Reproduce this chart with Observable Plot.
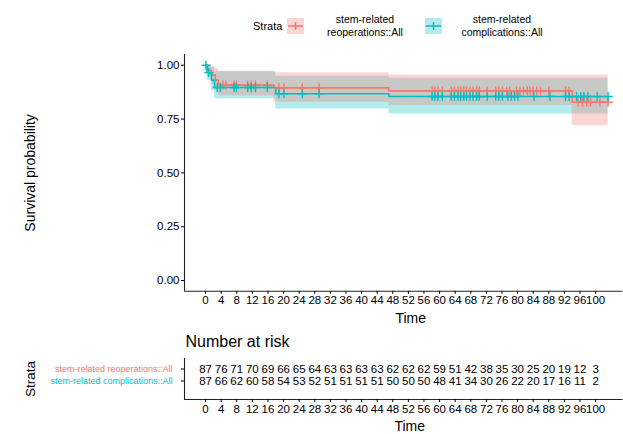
<!DOCTYPE html>
<html><head><meta charset="utf-8">
<script src="https://cdn.jsdelivr.net/npm/d3@7"></script>
<script src="https://cdn.jsdelivr.net/npm/@observablehq/plot@0.6"></script>
<style>
body{margin:0;background:#fff;font-family:"Liberation Sans",Arial,Helvetica,sans-serif;}
#wrap{position:relative;width:623px;height:434px;overflow:hidden;background:#fff;}
#legend{position:relative;height:45px;width:623px;}
#main{height:280px;}
#risk{height:109px;}
.lg{position:absolute;color:#000;white-space:nowrap;}
</style></head>
<body><div id="wrap"><div id="legend"></div><div id="main"></div><div id="risk"></div></div>
<script>
// ---- data ----
const strata = ["stem-related reoperations::All", "stem-related complications::All"];
const legendLines = [["stem-related", "reoperations::All"], ["stem-related", "complications::All"]];
const colors = ["#F8766D", "#00BFC4"];

const timeTicks = [0,4,8,12,16,20,24,28,32,36,40,44,48,52,56,60,64,68,72,76,80,84,88,92,96,100];
const probTicks = [0, 0.25, 0.5, 0.75, 1];

// Kaplan-Meier steps
const reopTime  = [0, 0.5, 1.5, 2.5, 3.3, 17.5, 47.0, 94.0, 103.2];
const reopSurv  = [1, 0.977, 0.954, 0.931, 0.908, 0.895, 0.881, 0.828, 0.828];
const reopUpper = [1, 1, 0.995, 0.985, 0.972, 0.965, 0.955, 0.955, 0.955];
const reopLower = [1, 0.945, 0.91, 0.88, 0.858, 0.828, 0.813, 0.72, 0.72];

const compTime  = [0, 0.4, 1.5, 2.3, 18.0, 47.0, 103.2];
const compSurv  = [1, 0.966, 0.931, 0.897, 0.868, 0.855, 0.855];
const compUpper = [1, 1, 0.99, 0.97, 0.949, 0.94, 0.94];
const compLower = [1, 0.93, 0.88, 0.844, 0.797, 0.774, 0.774];

// censoring times
const reopCensor = [4.5, 5.2, 7.3, 7.9, 10.8, 11.7, 12.8, 15.8, 18.8, 20.1, 24.8, 29.1,
  58.1, 58.8, 59.6, 60.7, 63.0, 63.8, 64.7, 65.4, 66.2, 66.9, 67.8, 68.6, 69.5, 70.2, 72.2,
  74.4, 75.2, 76.1, 77.2, 78.0, 79.7, 80.6, 81.5, 82.5, 83.2, 84.0, 84.9, 85.9, 88.0, 92.3, 93.2,
  95.5, 96.6, 97.7, 98.7, 101.1, 103.2];
const compCensor = [0.1, 0.8, 3.0, 3.8, 7.3, 7.9, 10.8, 11.7, 12.8, 15.8, 18.8, 20.1, 24.8, 29.1,
  58.1, 58.8, 59.6, 60.7, 63.0, 63.8, 64.7, 65.4, 66.2, 66.9, 67.8, 68.6, 69.5, 70.2, 72.2,
  74.4, 75.2, 76.1, 77.5, 78.4, 79.2, 80.1, 84.2, 88.3, 92.3, 93.2,
  95.1, 96.2, 97.0, 98.0, 100.4, 103.2];

// number at risk at timeTicks
const reopRisk = [87,76,71,70,69,66,65,64,63,63,63,63,62,62,62,59,51,42,38,35,30,25,20,19,12,3];
const compRisk = [87,66,62,60,58,54,53,52,51,51,51,51,50,50,50,48,41,34,30,26,22,20,17,16,11,2];

// ---- build tables ----
const curves = [
  {name: strata[0], time: reopTime, surv: reopSurv, upper: reopUpper, lower: reopLower, cens: reopCensor, risk: reopRisk},
  {name: strata[1], time: compTime, surv: compSurv, upper: compUpper, lower: compLower, cens: compCensor, risk: compRisk}
];
function stepAt(times, vals, t) { const i = d3.bisectRight(times, t) - 1; return vals[Math.max(0, i)]; }
const bandRows = curves.flatMap(c => c.time.map((t, i) => ({strata: c.name, time: t, surv: c.surv[i], upper: c.upper[i], lower: c.lower[i]})));
const bandRowsRev = curves.slice().reverse().flatMap(c => c.time.map((t, i) => ({strata: c.name, time: t, upper: c.upper[i], lower: c.lower[i]})));
const censRows = curves.flatMap(c => c.cens.map(t => ({strata: c.name, time: t, surv: stepAt(c.time, c.surv, t)})));
const riskRows = curves.flatMap((c, r) => timeTicks.map((t, j) => ({strata: c.name, row: r, time: t, n: c.risk[j]})));
const labelRows = strata.map((s, r) => ({strata: s, row: r}));

const cross = {draw(ctx, size) { const r = Math.sqrt(size / Math.PI); ctx.moveTo(-r, 0); ctx.lineTo(r, 0); ctx.moveTo(0, -r); ctx.lineTo(0, r); }};
const xDomain = [-5.4, 107.0];
const font = "'Liberation Sans', Arial, Helvetica, sans-serif";
const colorScale = {domain: strata, range: colors};

// ---- legend ----
const lg = d3.select("#legend");
lg.append("div").attr("class", "lg").style("left", "253px").style("top", "20px").style("font-size", "11px").text("Strata");
const keyX = [287, 425], labX = [365, 502];
strata.forEach((s, i) => {
  const svg = lg.append("svg").attr("width", 17).attr("height", 16)
    .style("position", "absolute").style("left", keyX[i] + "px").style("top", "18px");
  svg.append("rect").attr("width", 17).attr("height", 16).attr("fill", colors[i]).attr("fill-opacity", 0.3);
  svg.append("path").attr("d", "M1,8H16M8.5,4V12").attr("stroke", colors[i]).attr("stroke-width", 1.5);
  const d = lg.append("div").attr("class", "lg").style("left", (labX[i] - 60) + "px").style("width", "120px")
    .style("top", "13px").style("text-align", "center").style("font-size", "10.5px").style("line-height", "12.5px");
  d.append("div").text(legendLines[i][0]);
  d.append("div").text(legendLines[i][1]);
});

// ---- main survival plot ----
const main = Plot.plot({
  width: 623, height: 280,
  marginTop: 9, marginBottom: 34.2, marginLeft: 184, marginRight: 0.6,
  x: {domain: xDomain},
  y: {domain: [-0.05, 1.05]},
  color: colorScale,
  style: {fontFamily: font, fontSize: "11px", color: "#000", background: "white", overflow: "visible"},
  marks: [
    Plot.areaY(bandRowsRev, {x: "time", y1: "lower", y2: "upper", z: "strata", fill: "strata", fillOpacity: 0.3, curve: "step-after"}),
    Plot.line(bandRows, {x: "time", y: "surv", z: "strata", stroke: "strata", strokeWidth: 1.6, curve: "step-after"}),
    Plot.dot(censRows, {x: "time", y: "surv", stroke: "strata", fill: "none", symbol: cross, r: 4.5, strokeWidth: 1.4}),
    Plot.ruleX([xDomain[0]], {stroke: "#222", strokeWidth: 1.1}),
    Plot.ruleY([-0.05], {stroke: "#222", strokeWidth: 1.1}),
    Plot.axisY({ticks: probTicks, tickFormat: d3.format(".2f"), tickSize: 3, tickPadding: 2, label: null, fontSize: 11.5}),
    Plot.axisX({ticks: timeTicks, tickFormat: d => String(d), tickSize: 3, tickPadding: 2, label: null, fontSize: 11.5}),
    Plot.text(["Survival probability"], {text: d => d, frameAnchor: "left", textAnchor: "middle", dx: -154, rotate: -90, fontSize: 14, lineAnchor: "middle"}),
    Plot.text(["Time"], {text: d => d, frameAnchor: "bottom", textAnchor: "middle", dx: 7, dy: 27, fontSize: 14, lineAnchor: "middle"})
  ]
});
document.getElementById("main").appendChild(main);

// ---- risk table ----
const yRisk = [-0.875, 2.542];
const risk = Plot.plot({
  width: 623, height: 109,
  marginTop: 33, marginBottom: 35, marginLeft: 184, marginRight: 0.6,
  x: {domain: xDomain},
  y: {domain: yRisk, reverse: true},
  color: colorScale,
  style: {fontFamily: font, fontSize: "11px", color: "#000", background: "white", overflow: "visible"},
  marks: [
    Plot.ruleX([xDomain[0]], {stroke: "#222", strokeWidth: 1.1}),
    Plot.ruleY([yRisk[1]], {stroke: "#222", strokeWidth: 1.1}),
    Plot.axisY({ticks: [0, 1], tickFormat: () => "", tickSize: 3, label: null}),
    Plot.axisX({ticks: timeTicks, tickFormat: d => String(d), tickSize: 3, tickPadding: 2, label: null, fontSize: 11.5}),
    Plot.text(riskRows, {x: "time", y: "row", text: "n", fontSize: 11.5, fill: "#000"}),
    Plot.text(labelRows, {y: "row", text: "strata", frameAnchor: "left", dx: -12, textAnchor: "end", fill: "strata", fontSize: 9}),
    Plot.text(["Number at risk"], {text: d => d, frameAnchor: "top-left", textAnchor: "start", dx: 1, dy: -17, fontSize: 16, lineAnchor: "middle"}),
    Plot.text(["Strata"], {text: d => d, frameAnchor: "left", textAnchor: "middle", dx: -154, rotate: -90, fontSize: 13.5, lineAnchor: "middle"}),
    Plot.text(["Time"], {text: d => d, frameAnchor: "bottom", textAnchor: "middle", dx: 6, dy: 27, fontSize: 14, lineAnchor: "middle"})
  ]
});
document.getElementById("risk").appendChild(risk);
</script>
</body></html>
